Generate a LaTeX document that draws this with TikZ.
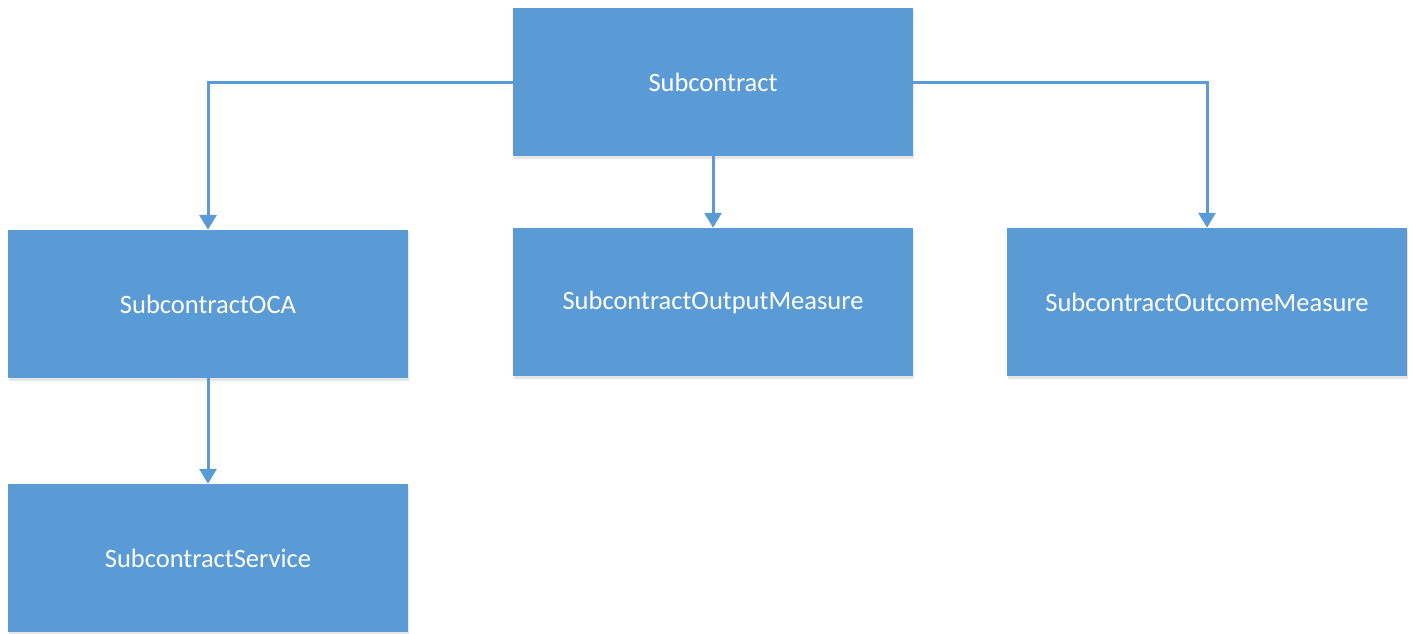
\documentclass[tikz,border=0pt]{standalone}
\usepackage{fontspec}
\setmainfont{Carlito}
\usetikzlibrary{arrows.meta,shadows}
\definecolor{boxblue}{HTML}{5B9BD5}
\definecolor{lineblue}{HTML}{5B9BD5}
\tikzset{
  box/.style={draw=none, fill=boxblue, minimum width=400pt, minimum height=148pt,
    inner sep=0pt, text=white, font=\fontsize{26.5}{31}\selectfont,
    drop shadow={shadow xshift=1pt, shadow yshift=-2.5pt, opacity=0.2, fill=gray}},
  conn/.style={draw=lineblue, line width=3pt,
    -{Triangle[width=17pt,length=15pt]}},
}
\begin{document}
\begin{tikzpicture}[x=1pt,y=-1pt]
\useasboundingbox (0,0) rectangle (1413,634);
\node[box] (sub) at (713,82) {Subcontract};
\node[box] (oca) at (208,304) {SubcontractOCA};
\node[box] (out) at (713,302) {SubcontractOutputMeasure};
\node[box] (outc) at (1207,302) {SubcontractOutcomeMeasure};
\node[box] (serv) at (208,558) {SubcontractService};
\draw[conn] (sub.west) -| (oca.north);
\draw[conn] (sub.east) -| (outc.north);
\draw[conn] (sub.south) -- (out.north);
\draw[conn] (oca.south) -- (serv.north);
\end{tikzpicture}
\end{document}
